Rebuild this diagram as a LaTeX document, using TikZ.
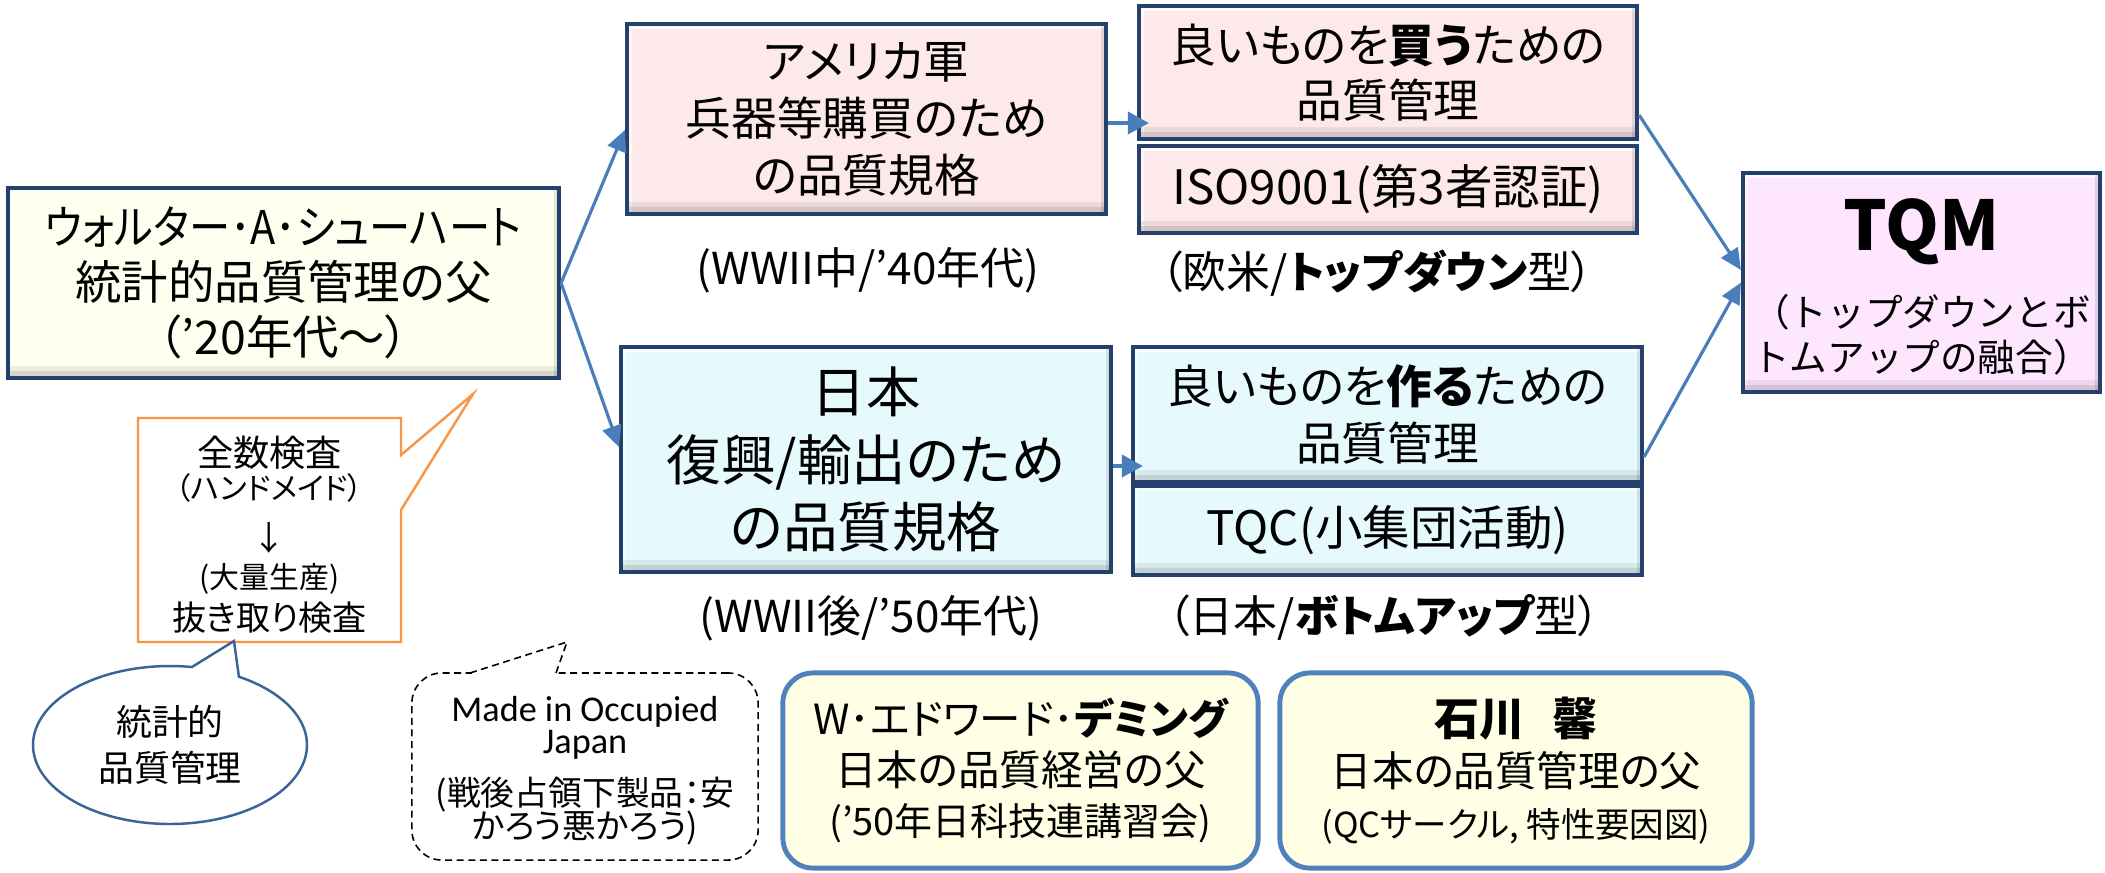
\documentclass[tikz,border=0pt]{standalone}
\usepackage{graphicx}
\usepackage{fontspec}
\setmainfont{Noto Sans CJK JP}[RawFeature=+palt]
\newfontfamily\fwfont{Noto Sans CJK JP}
\newfontfamily\latfont{Carlito}
\usetikzlibrary{arrows.meta,calc}
\definecolor{navy}{HTML}{25406A}
\definecolor{pinkf}{HTML}{FDE9EA}
\definecolor{bluef}{HTML}{E6FAFD}
\definecolor{yelf}{HTML}{FFFFF0}
\definecolor{yelr}{HTML}{FFFFE6}
\definecolor{tqmf}{HTML}{FFE6FF}
\definecolor{arr}{HTML}{4A7EBB}
\definecolor{rbord}{HTML}{4F81BD}
\definecolor{orng}{HTML}{F79646}
\definecolor{ellb}{HTML}{3B6395}
\newcommand\fs[2]{\fontsize{#1}{#2}\selectfont}
\begin{document}
\begin{tikzpicture}[x=0.01cm,y=-0.01cm,
  box/.style={draw=navy, line width=1.1pt, inner sep=0pt, align=center,
    path picture={
      \fill[white,opacity=.75] (path picture bounding box.north west) rectangle ([yshift=-0.05cm]path picture bounding box.north east);
      \fill[white,opacity=.6] (path picture bounding box.north west) rectangle ([xshift=0.05cm]path picture bounding box.south west);
      \fill[black,opacity=.16] (path picture bounding box.south west) rectangle ([yshift=0.07cm]path picture bounding box.south east);
      \fill[black,opacity=.07] ([yshift=0.07cm]path picture bounding box.south west) rectangle ([yshift=0.12cm]path picture bounding box.south east);
      \fill[black,opacity=.10] (path picture bounding box.north east) rectangle ([xshift=-0.05cm]path picture bounding box.south east);
    }},
  rbox/.style={draw=rbord, line width=1.4pt, rounded corners=0.3cm, fill=yelr, inner sep=0pt, align=center},
  lab/.style={inner sep=0pt, font=\fs{12.5pt}{14pt}},
  conn/.style={draw=arr, line width=0.9pt, -{Triangle[length=6pt,width=5.5pt]}},
  sarrow/.style={draw=arr, line width=1.1pt, -{Triangle[length=6pt,width=6.3pt]}, shorten >=-0.12cm},
  ctext/.style={inner sep=0pt, anchor=base},
]
\useasboundingbox (0,0) rectangle (2105,872);
\fill[white] (0,0) rectangle (2105,872);

% main boxes
\node[box, fill=yelf, minimum width=5.51cm, minimum height=1.90cm, font=\fs{13.2pt}{15.6pt}] (shew) at (283.5,283)
  {\scalebox{0.89}[1]{ウォルター･A･シューハート}\\統計的品質管理の父\\（’20年代～）};
\node[box, fill=pinkf, minimum width=4.79cm, minimum height=1.90cm, font=\fs{13pt}{16.2pt}] (usa) at (866.5,119)
  {アメリカ軍\\兵器等購買のため\\の品質規格};
\node[box, fill=bluef, minimum width=4.90cm, minimum height=2.25cm, font=\fs{15.5pt}{19.2pt}] (jpn) at (866,459.5)
  {日本\\復興/輸出のため\\の品質規格};
\node[box, fill=pinkf, minimum width=4.98cm, minimum height=1.33cm, font=\fs{13pt}{15.8pt}] (buy) at (1388,72.5)
  {良いものを\textbf{買う}ための\\品質管理};
\node[box, fill=pinkf, minimum width=4.98cm, minimum height=0.87cm, font=\fs{13.5pt}{16pt}] (iso) at (1388,189.5)
  {ISO9001(第3者認証)};
\node[box, fill=bluef, minimum width=5.09cm, minimum height=1.35cm, font=\fs{13pt}{16.2pt}] (make) at (1387.5,414.5)
  {良いものを\textbf{作る}ための\\品質管理};
\node[box, fill=bluef, minimum width=5.09cm, minimum height=0.89cm, font=\fs{13.5pt}{16pt}] (tqc) at (1387.5,530.5)
  {TQC(小集団活動)};
\node[box, fill=tqmf, minimum width=3.57cm, minimum height=2.19cm] (tqm) at (1921.5,282.5) {};
\node[inner sep=0pt, font=\fs{19.5pt}{21pt}\bfseries] (tqmt) at (1921.5,232) {TQM};
\node[inner sep=0pt, align=center, font=\fwfont\fs{10.7pt}{12.8pt}] (tqms) at (1921.5,334.5)
  {（トップダウンとボ\\トムアップの融合）};

% labels
\node[lab] (l1) at (868,270) {(WWII中/’40年代)};
\node[lab] (l2) at (1377,273) {（欧米/\textbf{トップダウン}型）};
\node[lab] (l3) at (871,618) {(WWII後/’50年代)};
\node[lab] (l4) at (1384,617) {（日本/\textbf{ボトムアップ}型）};

% connectors
\draw[conn] (shew.east) -- ([yshift=-0.11cm]usa.west);
\draw[conn] (shew.east) -- ([yshift=0.125cm]jpn.west);
\draw[sarrow] ([yshift=-0.04cm]usa.east) -- ([yshift=-0.04cm]usa.east -| buy.west);
\draw[sarrow] ([yshift=-0.065cm]jpn.east) -- ([yshift=-0.065cm]jpn.east -| make.west);
\draw[conn] ([yshift=-0.425cm]buy.east) -- ([yshift=0.125cm]tqm.west);
\draw[conn] ([yshift=-0.425cm]make.east) -- (tqm.west);

% bottom rounded boxes
\node[rbox, minimum width=4.75cm, minimum height=1.95cm, font=\fs{11.8pt}{14.5pt}] (deming) at (1020.5,770.5)
  {{\fontsize{11.8pt}{14.5pt}\selectfont W･エドワード･\textbf{デミング}}\\日本の品質経営の父\\{\fontsize{10.8pt}{14.5pt}\selectfont (’50年日科技連講習会)}};
\node[rbox, minimum width=4.72cm, minimum height=1.95cm, font=\fs{11.8pt}{14.5pt}] (ishi) at (1516,770.5)
  {{\fontsize{12.8pt}{14.5pt}\selectfont\bfseries 石川\hspace{0.6em}馨}\\日本の品質管理の父\\{\fontsize{9.8pt}{14.5pt}\selectfont (QCサークル, 特性要因図)}};

% orange callout
\draw[orng, line width=0.7pt, fill=white] (138,418) -- (401,418) -- (401,455) -- (473,394) -- (401,510) -- (401,642) -- (138,642) -- cycle;
\node[ctext, font=\fs{10.3pt}{12pt}] (o1) at (269.5,466) {全数検査};
\node[ctext, font=\fs{8.6pt}{10pt}] (o2) at (269.5,499) {（ハンドメイド）};
\node[ctext, font=\fs{9.5pt}{11pt}] (o3) at (269.5,550) {↓};
\node[ctext, font=\fs{8.5pt}{10pt}] (o4) at (269.5,588) {(大量生産)};
\node[ctext, font=\fs{9.7pt}{11pt}] (o5) at (269.5,630) {抜き取り検査};

% ellipse callout
\draw[ellb, line width=0.7pt, fill=white] plot[domain=80.8:419.8, samples=160] ({170+137*cos(\x)},{745-79*sin(\x)}) -- (234,641) -- cycle;
\node[inner sep=0pt, align=center, font=\fs{10.2pt}{13.1pt}] (stat) at (170,745) {統計的\\品質管理};

% dashed callout
\node[draw, dash pattern=on 2pt off 1.3pt, line width=0.45pt, rounded corners=0.3cm, fill=white, minimum width=3.46cm, minimum height=1.87cm] (moj) at (585,766.5) {};
\draw[white, line width=1.5pt] (472,673) -- (554,673);
\draw[dash pattern=on 2pt off 1.3pt, line width=0.45pt] (470,673) -- (567,642) -- (556,673);
\node[ctext, font=\latfont\fs{10.3pt}{12pt}] (m1) at (585,721) {Made in Occupied};
\node[ctext, font=\latfont\fs{10.3pt}{12pt}] (m2) at (585,753) {Japan};
\node[ctext, font=\fs{9.6pt}{12pt}] (m3) at (585,805) {(戦後占領下製品：安};
\node[ctext, font=\fs{9.6pt}{12pt}] (m4) at (585,838) {かろう悪かろう)};
\end{tikzpicture}
\end{document}
